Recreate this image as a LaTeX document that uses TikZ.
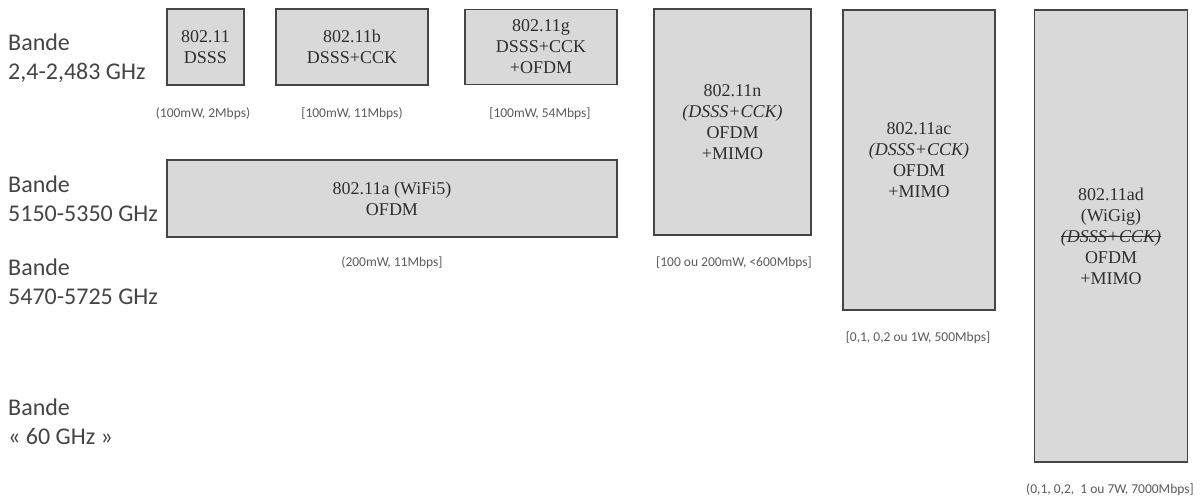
\documentclass[tikz,border=0pt]{standalone}
\usepackage{fontspec}
\setmainfont{Liberation Serif}
\newfontfamily\bandfont{Carlito}
\newsavebox\strikebox
\newcommand\strikethru[1]{\sbox\strikebox{#1}\rlap{\raisebox{0.28em}{\rule{\wd\strikebox}{0.9pt}}}\usebox\strikebox}
\definecolor{boxfill}{HTML}{D9D9D9}
\definecolor{boxline}{HTML}{454545}
\definecolor{boxtext}{HTML}{2E2E2E}
\definecolor{bandtext}{HTML}{444444}
\definecolor{smalltext}{HTML}{5A5A5A}
\tikzset{
  stdbox/.style={draw=boxline, fill=boxfill, line width=1.4pt, text=boxtext,
    align=center, inner sep=0pt,
    font=\fontsize{18}{21}\selectfont},
  bandlabel/.style={anchor=west, align=left, text=bandtext, inner sep=0pt,
    font=\bandfont\fontsize{24}{29}\selectfont},
  speclabel/.style={text=smalltext, inner sep=0pt,
    font=\bandfont\fontsize{13.5}{15}\selectfont}
}
\begin{document}
\begin{tikzpicture}[x=1pt,y=-1pt]
\useasboundingbox (0,0) rectangle (1200,497);
% band labels
\node[bandlabel] (g1) at (8,58) {Bande\\2,4-2,483 GHz};
\node[bandlabel] (g2) at (8,199) {Bande\\5150-5350 GHz};
\node[bandlabel] (g3) at (8,282) {Bande\\5470-5725 GHz};
\node[bandlabel] (g4) at (8,422) {Bande\\« 60 GHz »};
% boxes
\node[stdbox, minimum width=77pt, minimum height=76pt] (b1) at (205.5,47) {802.11\\DSSS};
\node[stdbox, minimum width=152pt, minimum height=76pt] (b2) at (352,47) {802.11b\\DSSS+CCK};
\node[stdbox, minimum width=152pt, minimum height=75pt] (b3) at (541,47) {802.11g\\DSSS+CCK\\+OFDM};
\node[stdbox, minimum width=450pt, minimum height=77pt] (ba) at (392,198.5) {802.11a (WiFi5)\\OFDM};
\node[stdbox, minimum width=157pt, minimum height=226pt] (bn) at (732.5,122) {802.11n\\\textit{(DSSS+CCK)}\\OFDM\\+MIMO};
\node[stdbox, minimum width=152pt, minimum height=300pt] (bac) at (919,160) {802.11ac\\\textit{(DSSS+CCK)}\\OFDM\\+MIMO};
\node[stdbox, minimum width=153pt, minimum height=452pt] (bad) at (1111,236) {802.11ad\\(WiGig)\\\strikethru{\textit{(DSSS+CCK)}}\\OFDM\\+MIMO};
% spec labels
\node[speclabel] (l1) at (203,114) {(100mW, 2Mbps)};
\node[speclabel] (l2) at (352,114) {[100mW, 11Mbps)};
\node[speclabel] (l3) at (540,114) {[100mW, 54Mbps]};
\node[speclabel] (la) at (392,263) {(200mW, 11Mbps]};
\node[speclabel] (ln) at (734,263) {[100 ou 200mW, <600Mbps]};
\node[speclabel] (lac) at (918,338) {[0,1, 0,2 ou 1W, 500Mbps]};
\node[speclabel] (lad) at (1110,490) {(0,1, 0,2,\ \ 1 ou 7W, 7000Mbps]};
\end{tikzpicture}
\end{document}
